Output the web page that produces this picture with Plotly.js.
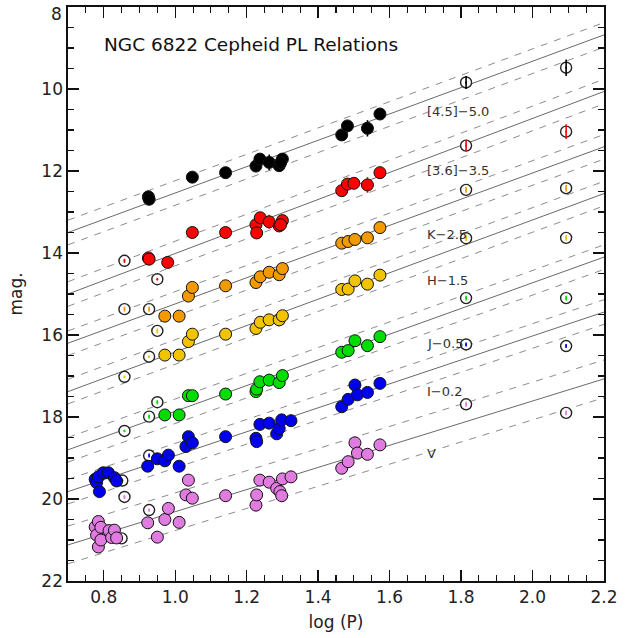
<!DOCTYPE html>
<html>
<head>
<meta charset="utf-8">
<script src="https://cdn.plot.ly/plotly-3.0.1.min.js"></script>
<style>html,body{margin:0;padding:0;background:#fff;}#chart{width:629px;height:638px;}</style>
</head>
<body>
<div id="chart"></div>
<script>
// ---- band names, labels, colours ----
const bands = ["[4.5]", "[3.6]", "K", "H", "J", "I", "V"];
const bandLabels = ["[4.5]\u22125.0", "[3.6]\u22123.5", "K\u22122.5", "H\u22121.5", "J\u22120.5", "I\u22120.2", "V"];
const bandColors = ["#000000", "#ff0000", "#f29a00", "#f2c400", "#00dd00", "#0000ee", "#e07be0"];
const labelLogP = [1.70, 1.70, 1.70, 1.70, 1.70, 1.70, 1.70];
const labelMag = [10.56, 11.98, 13.54, 14.68, 16.20, 17.37, 18.90];

// ---- PL relation lines (read at the plot edges) ----
const lineLogP = [0.7, 2.2];
const lineMagLeft = [13.50, 15.00, 16.20, 17.38, 18.80, 19.82, 21.12];
const lineMagRight = [8.68, 10.06, 11.41, 12.55, 14.10, 15.44, 17.07];
const lineWidthMag = [0.30, 0.30, 0.30, 0.30, 0.30, 0.30, 0.46];

// ---- filled points ----
const logP_45 = [0.925, 0.927, 1.048, 1.141, 1.226, 1.237, 1.263, 1.291, 1.300, 1.295, 1.466, 1.482, 1.538, 1.573];
const mag_45 = [12.63, 12.69, 12.15, 12.04, 11.88, 11.71, 11.79, 11.87, 11.71, 11.80, 11.12, 10.90, 10.96, 10.61];
const err_45 = [0, 0, 0, 0, 0, 0, 0.19, 0, 0, 0, 0, 0, 0.2, 0];

const logP_36 = [0.925, 0.927, 0.979, 1.048, 1.141, 1.226, 1.228, 1.238, 1.263, 1.291, 1.300, 1.295, 1.466, 1.482, 1.500, 1.538, 1.573];
const mag_36 = [14.12, 14.15, 14.23, 13.50, 13.50, 13.31, 13.51, 13.14, 13.24, 13.34, 13.21, 13.31, 12.48, 12.32, 12.30, 12.34, 12.04];
const err_36 = [0, 0, 0, 0, 0, 0, 0, 0, 0.17, 0, 0, 0, 0, 0, 0, 0.19, 0];

const logP_K = [0.971, 1.011, 1.037, 1.048, 1.141, 1.226, 1.238, 1.263, 1.291, 1.300, 1.466, 1.484, 1.503, 1.538, 1.573];
const mag_K = [15.54, 15.54, 15.05, 14.84, 14.80, 14.72, 14.58, 14.47, 14.53, 14.38, 13.76, 13.72, 13.67, 13.63, 13.38];

const logP_H = [0.971, 1.011, 1.037, 1.048, 1.141, 1.226, 1.238, 1.263, 1.291, 1.300, 1.466, 1.484, 1.503, 1.538, 1.573];
const mag_H = [16.49, 16.49, 16.16, 15.98, 15.98, 15.84, 15.69, 15.63, 15.63, 15.53, 14.89, 14.88, 14.68, 14.76, 14.54];

const logP_J = [0.971, 1.011, 1.037, 1.048, 1.141, 1.226, 1.228, 1.237, 1.263, 1.291, 1.300, 1.466, 1.484, 1.503, 1.538, 1.573];
const mag_J = [17.95, 17.95, 17.48, 17.48, 17.44, 17.38, 17.32, 17.14, 17.10, 17.16, 16.99, 16.42, 16.38, 16.14, 16.26, 16.04];

const logP_I = [0.776, 0.780, 0.785, 0.788, 0.799, 0.813, 0.830, 0.836, 0.923, 0.950, 0.971, 0.981, 1.011, 1.030, 1.037, 1.048, 1.141, 1.226, 1.228, 1.237, 1.263, 1.284, 1.291, 1.298, 1.324, 1.466, 1.484, 1.503, 1.510, 1.538, 1.573];
const mag_I = [19.52, 19.60, 19.46, 19.82, 19.36, 19.36, 19.48, 19.56, 19.20, 19.02, 19.07, 18.93, 19.20, 18.72, 18.48, 18.63, 18.48, 18.52, 18.60, 18.18, 18.15, 18.41, 18.28, 18.07, 18.09, 17.75, 17.57, 17.22, 17.46, 17.40, 17.18];

const logP_V = [0.776, 0.780, 0.785, 0.785, 0.792, 0.792, 0.815, 0.822, 0.830, 0.836, 0.923, 0.950, 0.971, 0.981, 1.011, 1.030, 1.037, 1.048, 1.141, 1.226, 1.228, 1.237, 1.263, 1.284, 1.293, 1.298, 1.300, 1.324, 1.466, 1.484, 1.503, 1.510, 1.538, 1.573];
const mag_V = [20.68, 20.88, 20.55, 21.17, 20.69, 21.00, 20.77, 20.94, 20.76, 20.95, 20.58, 20.93, 20.50, 20.23, 20.57, 19.90, 19.54, 19.98, 19.92, 20.15, 19.90, 19.54, 19.59, 19.74, 19.82, 19.92, 19.51, 19.46, 19.25, 19.09, 18.63, 18.88, 18.91, 18.68];

// ---- open (excluded) points ----
const open_logP_45 = [1.814, 2.094];
const open_mag_45 = [9.84, 9.48];
const open_err_45 = [0.16, 0.2];

const open_logP_36 = [0.858, 0.950, 1.814, 2.094];
const open_mag_36 = [14.19, 14.64, 11.38, 11.04];
const open_err_36 = [0.05, 0.03, 0.14, 0.18];

const open_logP_K = [0.858, 0.927, 1.814, 2.094];
const open_mag_K = [15.37, 15.37, 12.46, 12.42];
const open_err_K = [0.06, 0.06, 0.07, 0.08];

const open_logP_H = [0.950, 0.927, 0.858, 1.814, 2.094];
const open_mag_H = [15.90, 16.53, 17.02, 13.64, 13.63];
const open_err_H = [0.06, 0.03, 0.03, 0.07, 0.07];

const open_logP_J = [0.950, 0.927, 0.858, 1.814, 2.094];
const open_mag_J = [17.64, 17.99, 18.34, 15.10, 15.10];
const open_err_J = [0.05, 0.05, 0.03, 0.06, 0.06];

const open_logP_I = [0.927, 0.852, 1.814, 2.094];
const open_mag_I = [18.94, 19.55, 16.23, 16.27];
const open_err_I = [0.05, 0.03, 0.05, 0.05];

const open_logP_V = [0.858, 0.927, 0.850, 1.814, 2.094];
const open_mag_V = [19.95, 20.27, 20.96, 17.69, 17.90];
const open_err_V = [0.05, 0.04, 0.03, 0.06, 0.06];

// ---- build traces ----
const filled = [
  [logP_45, mag_45, err_45], [logP_36, mag_36, err_36], [logP_K, mag_K, null], [logP_H, mag_H, null],
  [logP_J, mag_J, null], [logP_I, mag_I, null], [logP_V, mag_V, null]
];
const opens = [
  [open_logP_45, open_mag_45, open_err_45], [open_logP_36, open_mag_36, open_err_36], [open_logP_K, open_mag_K, open_err_K],
  [open_logP_H, open_mag_H, open_err_H], [open_logP_J, open_mag_J, open_err_J], [open_logP_I, open_mag_I, open_err_I],
  [open_logP_V, open_mag_V, open_err_V]
];

const traces = [];
bands.forEach((b, i) => {
  const solid = [lineMagLeft[i], lineMagRight[i]];
  traces.push({x: lineLogP, y: solid, mode: 'lines', line: {color: '#6a6a6a', width: 1}, hoverinfo: 'skip'});
  [-1, 1].forEach(s => {
    traces.push({x: lineLogP, y: solid.map(v => v + s * lineWidthMag[i]), mode: 'lines',
      line: {color: '#8c8c8c', width: 1, dash: '7px,7px'}, hoverinfo: 'skip'});
  });
});
bands.forEach((b, i) => {
  const [xs, ys, es] = opens[i];
  traces.push({x: xs, y: ys, mode: 'markers', name: b + ' excluded',
    marker: {symbol: 'circle', size: 11, color: '#ffffff', line: {color: '#222', width: 1.4}}});
  // error bars drawn over the white fill
  traces.push({x: xs, y: ys, mode: 'markers', hoverinfo: 'skip',
    marker: {symbol: 'circle', size: 2, color: bandColors[i]},
    error_y: {type: 'data', array: es, color: bandColors[i], thickness: 1.6, width: 0}});
});
bands.forEach((b, i) => {
  const [xs, ys, es] = filled[i];
  const t = {x: xs, y: ys, mode: 'markers', name: b,
    marker: {symbol: 'circle', size: 12, color: bandColors[i], line: {color: '#111', width: 1}}};
  if (es) t.error_y = {type: 'data', array: es, color: bandColors[i], thickness: 1.6, width: 0};
  traces.push(t);
});

const fam = 'DejaVu Sans, Verdana, sans-serif';
const annotations = bandLabels.map((t, i) => ({
  x: labelLogP[i], y: labelMag[i], xref: 'x', yref: 'y', text: t, showarrow: false,
  xanchor: 'left', yanchor: 'middle', font: {family: fam, size: 13, color: '#333'}
}));
annotations.push({
  xref: 'paper', yref: 'paper', x: 0.064, y: 0.935, xanchor: 'left', yanchor: 'middle',
  text: 'NGC 6822 Cepheid PL Relations', showarrow: false,
  font: {family: fam, size: 18.5, color: '#111'}
});
// top tick label (sits at the very edge of the frame)
annotations.push({
  xref: 'paper', yref: 'y', x: 0, y: 8, xanchor: 'right', yanchor: 'middle', xshift: -4, yshift: -7,
  text: '8', showarrow: false, font: {family: fam, size: 17, color: '#222'}
});

const axisFont = {family: fam, size: 17, color: '#222'};
const layout = {
  width: 629, height: 638,
  margin: {l: 68, r: 25, t: 7, b: 57},
  paper_bgcolor: '#fff', plot_bgcolor: '#fff',
  showlegend: false,
  xaxis: {
    range: [0.7, 2.2], dtick: 0.2, tick0: 0.8, tickformat: '.1f',
    ticks: 'inside', ticklen: 11, tickwidth: 1.3, tickcolor: '#111',
    minor: {dtick: 0.05, ticks: 'inside', ticklen: 6, tickwidth: 1.1, tickcolor: '#111'},
    showline: true, linecolor: '#111', linewidth: 1.6, mirror: 'allticks',
    showgrid: false, zeroline: false, tickfont: axisFont,
    title: {text: 'log (P)', font: axisFont, standoff: 10}
  },
  yaxis: {
    range: [22, 8], dtick: 2, tick0: 8,
    ticks: 'inside', ticklen: 11, tickwidth: 1.3, tickcolor: '#111',
    minor: {dtick: 0.5, ticks: 'inside', ticklen: 6, tickwidth: 1.1, tickcolor: '#111'},
    showline: true, linecolor: '#111', linewidth: 1.6, mirror: 'allticks',
    showgrid: false, zeroline: false, tickfont: axisFont,
    title: {text: 'mag.', font: axisFont, standoff: 14}
  },
  annotations: annotations
};

Plotly.newPlot('chart', traces, layout, {displayModeBar: false, staticPlot: true});
</script>
</body>
</html>
